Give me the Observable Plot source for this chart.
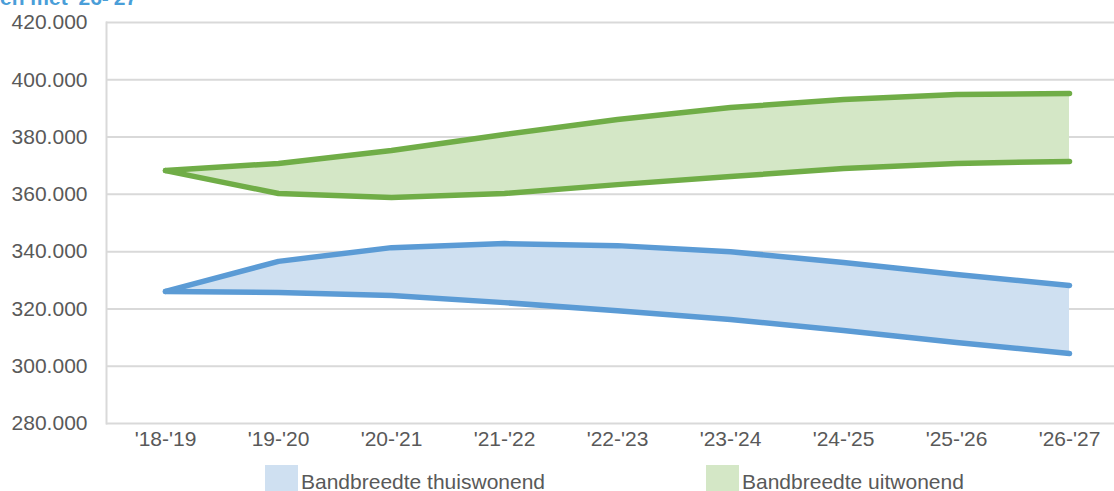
<!DOCTYPE html>
<html>
<head>
<meta charset="utf-8">
<script src="https://cdn.jsdelivr.net/npm/d3@7"></script>
<script src="https://cdn.jsdelivr.net/npm/@observablehq/plot@0.6"></script>
<style>
  html, body { margin: 0; padding: 0; background: #fff; overflow: hidden; }
  #wrap { position: relative; width: 1114px; height: 491px; font-family: "Liberation Sans", Arial, sans-serif; }
  #title { position: absolute; left: 0; top: -14px; font-size: 21px; font-weight: bold; color: #4a9ed8; white-space: nowrap; }
  #chart { position: absolute; left: 0; top: 0; }
  .leg { position: absolute; top: 465px; display: flex; align-items: flex-start; font-size: 21px; color: #595959; }
  .sw { width: 33px; height: 26px; margin-right: 3px; }
</style>
</head>
<body>
<div id="wrap">
  <div id="chart"></div>
  <div id="title">en met '26-'27</div>
  <div class="leg" style="left:265px;"><div class="sw" style="background:#cfe0f1"></div><span style="margin-top:5px">Bandbreedte thuiswonend</span></div>
  <div class="leg" style="left:706px;"><div class="sw" style="background:#d4e7c6"></div><span style="margin-top:5px">Bandbreedte uitwonend</span></div>
</div>
<script>
const categories = ["'18-'19","'19-'20","'20-'21","'21-'22","'22-'23","'23-'24","'24-'25","'25-'26","'26-'27"];
const thuisLow  = [326.1, 325.7, 324.7, 322.2, 319.4, 316.3, 312.5, 308.3, 304.4];
const thuisHigh = [326.1, 336.6, 341.4, 342.8, 342.1, 340.0, 336.2, 332.0, 328.2];
const uitLow    = [368.3, 360.3, 358.9, 360.3, 363.4, 366.2, 369.0, 370.8, 371.5];
const uitHigh   = [368.3, 370.8, 375.3, 380.9, 386.1, 390.3, 393.1, 394.9, 395.2];
const yTicks = [280, 300, 320, 340, 360, 380, 400, 420];

const rows = categories.map((c, i) => ({c, tl: thuisLow[i], th: thuisHigh[i], ul: uitLow[i], uh: uitHigh[i]}));

const blue = "#5b9bd5", green = "#70ad47";
const lineOpts = {strokeWidth: 5.5, strokeLinecap: "round", strokeLinejoin: "round"};
const chart = Plot.plot({
  width: 1114,
  height: 453,
  marginLeft: 106,
  marginRight: 0,
  marginTop: 22,
  marginBottom: 30,
  style: {fontFamily: "'Liberation Sans', Arial, sans-serif", background: "#fff"},
  x: {type: "point", domain: categories, range: [161, 1072], padding: 0},
  y: {domain: [280, 420]},
  marks: [
    Plot.ruleY(yTicks, {stroke: "#d9d9d9", strokeWidth: 2}),
    Plot.frame({anchor: "left", stroke: "#d9d9d9", strokeWidth: 2}),
    Plot.axisX({label: null, tickSize: 0, tickPadding: 8, fontSize: 21, fill: "#595959"}),
    Plot.axisY({ticks: yTicks, tickFormat: d => `${d}.000`, label: null, tickSize: 0, tickPadding: 19, fontSize: 21, fill: "#595959"}),
    Plot.areaY(rows, {x: "c", y1: "tl", y2: "th", fill: "#cfe0f1"}),
    Plot.areaY(rows, {x: "c", y1: "ul", y2: "uh", fill: "#d4e7c6"}),
    Plot.lineY(rows, {x: "c", y: "tl", stroke: blue, ...lineOpts}),
    Plot.lineY(rows, {x: "c", y: "th", stroke: blue, ...lineOpts}),
    Plot.lineY(rows, {x: "c", y: "ul", stroke: green, ...lineOpts}),
    Plot.lineY(rows, {x: "c", y: "uh", stroke: green, ...lineOpts})
  ]
});
document.getElementById("chart").appendChild(chart);
</script>
</body>
</html>
